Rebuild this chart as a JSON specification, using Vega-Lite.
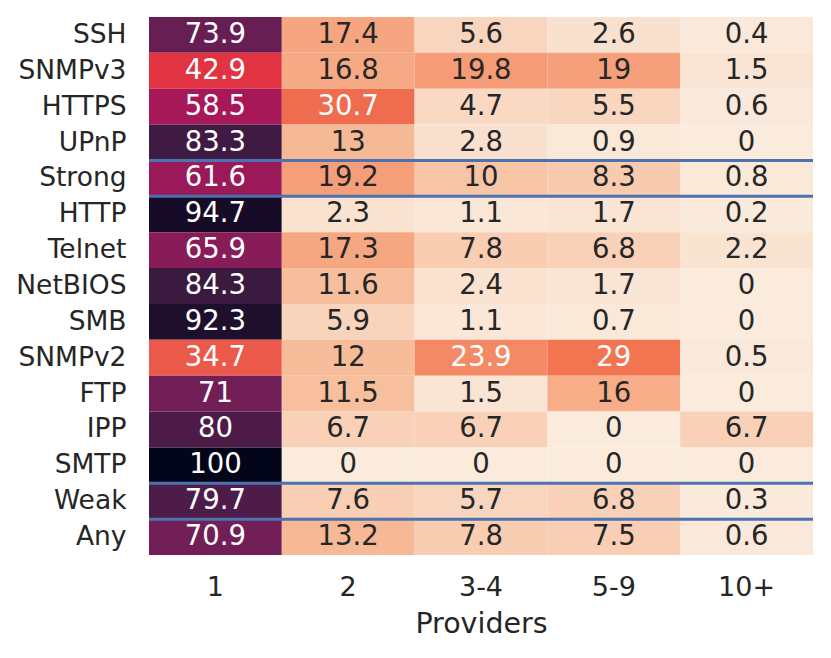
{
  "$schema": "https://vega.github.io/schema/vega-lite/v6.json",
  "width": 664,
  "height": 538,
  "autosize": {"type": "none"},
  "padding": {"left": 149, "top": 17, "right": 18, "bottom": 103},
  "background": "white",
  "config": {
    "view": {"stroke": null},
    "font": "DejaVu Sans",
    "axis": {
      "domain": false,
      "ticks": false,
      "grid": false,
      "labelFont": "DejaVu Sans",
      "labelFontSize": 26.5,
      "labelColor": "#262626",
      "titleFont": "DejaVu Sans",
      "titleFontSize": 28.5,
      "titleColor": "#262626",
      "titleFontWeight": "normal"
    }
  },
  "datasets": {
    "cells": [
      {"row": "SSH", "providers": "1", "value": 73.9},
      {"row": "SSH", "providers": "2", "value": 17.4},
      {"row": "SSH", "providers": "3-4", "value": 5.6},
      {"row": "SSH", "providers": "5-9", "value": 2.6},
      {"row": "SSH", "providers": "10+", "value": 0.4},
      {"row": "SNMPv3", "providers": "1", "value": 42.9},
      {"row": "SNMPv3", "providers": "2", "value": 16.8},
      {"row": "SNMPv3", "providers": "3-4", "value": 19.8},
      {"row": "SNMPv3", "providers": "5-9", "value": 19},
      {"row": "SNMPv3", "providers": "10+", "value": 1.5},
      {"row": "HTTPS", "providers": "1", "value": 58.5},
      {"row": "HTTPS", "providers": "2", "value": 30.7},
      {"row": "HTTPS", "providers": "3-4", "value": 4.7},
      {"row": "HTTPS", "providers": "5-9", "value": 5.5},
      {"row": "HTTPS", "providers": "10+", "value": 0.6},
      {"row": "UPnP", "providers": "1", "value": 83.3},
      {"row": "UPnP", "providers": "2", "value": 13},
      {"row": "UPnP", "providers": "3-4", "value": 2.8},
      {"row": "UPnP", "providers": "5-9", "value": 0.9},
      {"row": "UPnP", "providers": "10+", "value": 0},
      {"row": "Strong", "providers": "1", "value": 61.6},
      {"row": "Strong", "providers": "2", "value": 19.2},
      {"row": "Strong", "providers": "3-4", "value": 10},
      {"row": "Strong", "providers": "5-9", "value": 8.3},
      {"row": "Strong", "providers": "10+", "value": 0.8},
      {"row": "HTTP", "providers": "1", "value": 94.7},
      {"row": "HTTP", "providers": "2", "value": 2.3},
      {"row": "HTTP", "providers": "3-4", "value": 1.1},
      {"row": "HTTP", "providers": "5-9", "value": 1.7},
      {"row": "HTTP", "providers": "10+", "value": 0.2},
      {"row": "Telnet", "providers": "1", "value": 65.9},
      {"row": "Telnet", "providers": "2", "value": 17.3},
      {"row": "Telnet", "providers": "3-4", "value": 7.8},
      {"row": "Telnet", "providers": "5-9", "value": 6.8},
      {"row": "Telnet", "providers": "10+", "value": 2.2},
      {"row": "NetBIOS", "providers": "1", "value": 84.3},
      {"row": "NetBIOS", "providers": "2", "value": 11.6},
      {"row": "NetBIOS", "providers": "3-4", "value": 2.4},
      {"row": "NetBIOS", "providers": "5-9", "value": 1.7},
      {"row": "NetBIOS", "providers": "10+", "value": 0},
      {"row": "SMB", "providers": "1", "value": 92.3},
      {"row": "SMB", "providers": "2", "value": 5.9},
      {"row": "SMB", "providers": "3-4", "value": 1.1},
      {"row": "SMB", "providers": "5-9", "value": 0.7},
      {"row": "SMB", "providers": "10+", "value": 0},
      {"row": "SNMPv2", "providers": "1", "value": 34.7},
      {"row": "SNMPv2", "providers": "2", "value": 12},
      {"row": "SNMPv2", "providers": "3-4", "value": 23.9},
      {"row": "SNMPv2", "providers": "5-9", "value": 29},
      {"row": "SNMPv2", "providers": "10+", "value": 0.5},
      {"row": "FTP", "providers": "1", "value": 71},
      {"row": "FTP", "providers": "2", "value": 11.5},
      {"row": "FTP", "providers": "3-4", "value": 1.5},
      {"row": "FTP", "providers": "5-9", "value": 16},
      {"row": "FTP", "providers": "10+", "value": 0},
      {"row": "IPP", "providers": "1", "value": 80},
      {"row": "IPP", "providers": "2", "value": 6.7},
      {"row": "IPP", "providers": "3-4", "value": 6.7},
      {"row": "IPP", "providers": "5-9", "value": 0},
      {"row": "IPP", "providers": "10+", "value": 6.7},
      {"row": "SMTP", "providers": "1", "value": 100},
      {"row": "SMTP", "providers": "2", "value": 0},
      {"row": "SMTP", "providers": "3-4", "value": 0},
      {"row": "SMTP", "providers": "5-9", "value": 0},
      {"row": "SMTP", "providers": "10+", "value": 0},
      {"row": "Weak", "providers": "1", "value": 79.7},
      {"row": "Weak", "providers": "2", "value": 7.6},
      {"row": "Weak", "providers": "3-4", "value": 5.7},
      {"row": "Weak", "providers": "5-9", "value": 6.8},
      {"row": "Weak", "providers": "10+", "value": 0.3},
      {"row": "Any", "providers": "1", "value": 70.9},
      {"row": "Any", "providers": "2", "value": 13.2},
      {"row": "Any", "providers": "3-4", "value": 7.8},
      {"row": "Any", "providers": "5-9", "value": 7.5},
      {"row": "Any", "providers": "10+", "value": 0.6}
    ],
    "separators": [
      {"row": "Strong"},
      {"row": "HTTP"},
      {"row": "Weak"},
      {"row": "Any"}
    ]
  },
  "layer": [
    {
      "data": {"name": "cells"},
      "mark": {"type": "rect"},
      "encoding": {
        "x": {
          "field": "providers", "type": "ordinal",
          "scale": {"domain": ["1", "2", "3-4", "5-9", "10+"], "paddingInner": 0, "paddingOuter": 0},
          "axis": {"title": "Providers", "labelAngle": 0, "labelPadding": 19, "labelFontSize": 27, "titlePadding": 9}
        },
        "y": {
          "field": "row", "type": "nominal",
          "scale": {"domain": ["SSH", "SNMPv3", "HTTPS", "UPnP", "Strong", "HTTP", "Telnet", "NetBIOS", "SMB", "SNMPv2", "FTP", "IPP", "SMTP", "Weak", "Any"], "paddingInner": 0, "paddingOuter": 0},
          "axis": {"title": null, "labelPadding": 23}
        },
        "color": {
          "field": "value", "type": "quantitative",
          "scale": {
            "domain": [0, 14.2857, 28.5714, 42.8571, 57.1429, 71.4286, 85.7143, 100],
            "range": ["#faebdd", "#f6b48f", "#f37651", "#e13342", "#ad1759", "#701f57", "#35193e", "#03051a"],
            "interpolate": "rgb"
          },
          "legend": null
        }
      }
    },
    {
      "data": {"name": "cells"},
      "mark": {"type": "text", "fontSize": 27.5, "font": "DejaVu Sans", "baseline": "middle", "align": "center"},
      "encoding": {
        "x": {"field": "providers", "type": "ordinal"},
        "y": {"field": "row", "type": "nominal"},
        "text": {"field": "value", "type": "quantitative"},
        "color": {
          "condition": {"test": "datum.value > 22", "value": "white"},
          "value": "#262626"
        }
      }
    },
    {
      "data": {"name": "separators"},
      "mark": {"type": "rule", "color": "#4c72b0", "strokeWidth": 3},
      "encoding": {
        "y": {"field": "row", "type": "nominal", "bandPosition": 0}
      }
    }
  ],
  "resolve": {"scale": {"color": "independent"}}
}
